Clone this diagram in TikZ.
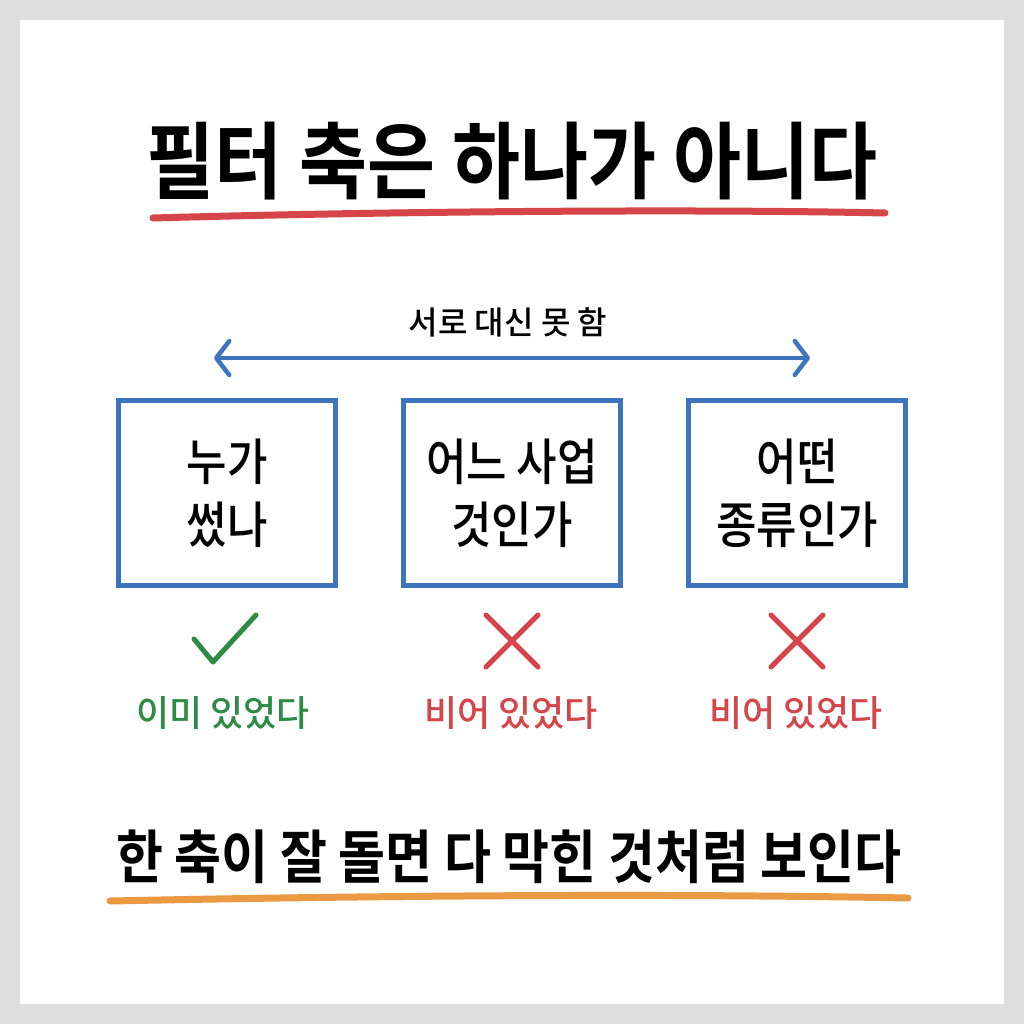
\documentclass[tikz,border=0pt]{standalone}
\usepackage{fontspec}
\usetikzlibrary{arrows.meta}
\newfontfamily\cjk[FakeStretch=0.88]{Noto Sans CJK KR Medium}
\newfontfamily\cjkwide{Noto Sans CJK KR Medium}
\newfontfamily\cjkbold[FakeStretch=0.88]{Noto Sans CJK KR Bold}
\definecolor{bggray}{HTML}{DEDEDE}
\definecolor{boxblue}{HTML}{3D74BD}
\definecolor{crossred}{HTML}{D64549}
\definecolor{okgreen}{HTML}{2E8B45}
\definecolor{lineorange}{HTML}{E99A42}
\tikzset{
  titletext/.style={inner sep=0pt, font=\cjkbold\fontsize{84}{100}\selectfont},
  bottomtext/.style={inner sep=0pt, font=\cjkbold\fontsize{58}{70}\selectfont},
  smalltext/.style={inner sep=0pt, font=\cjkwide\fontsize{32}{40}\selectfont},
  boxtext/.style={inner sep=0pt, align=center, font=\cjk\fontsize{50}{63}\selectfont},
  labeltext/.style={inner sep=0pt, font=\cjkwide\fontsize{36}{44}\selectfont},
  stepbox/.style={draw=boxblue, line width=5pt, minimum width=217pt, minimum height=185pt, inner sep=0pt},
  underline/.style={line width=7pt, line cap=round},
  markline/.style={line width=5pt, line cap=round, line join=round},
  twoway/.style={draw=boxblue, line width=4.5pt, line cap=round,
    {Straight Barb[length=13pt,width=34pt,line width=4.5pt,round]}-{Straight Barb[length=13pt,width=34pt,line width=4.5pt,round]}}
}
\begin{document}
\begin{tikzpicture}[x=1pt,y=-1pt]
\fill[bggray] (0,0) rectangle (1024,1024);
\fill[white] (20,20) rectangle (1004,1004);
\useasboundingbox (0,0) rectangle (1024,1024);

% title
\node[titletext] (title) at (512,161) {필터 축은 하나가 아니다};
\coordinate (tuL) at (153,218);
\coordinate (tuR) at (885,213);
\draw[underline, crossred] (tuL) .. controls (400,211) and (700,209) .. (tuR);

% arrow
\node[smalltext] (mutual) at (508,322) {서로 대신 못 함};
\coordinate (aL) at (214,358);
\coordinate (aR) at (810,358);
\draw[twoway] (aL) -- (aR);

% boxes
\node[stepbox] (b1) at (227,493) {};
\node[stepbox] (b2) at (512,493) {};
\node[stepbox] (b3) at (797,493) {};
\node[boxtext] (t1) at (b1.center) {누가\\썼나};
\node[boxtext] (t2) at (b2.center) {어느 사업\\것인가};
\node[boxtext] (t3) at (b3.center) {어떤\\종류인가};

% marks
\coordinate (c1) at (194,639);
\coordinate (c2) at (213,662);
\coordinate (c3) at (256,615);
\draw[markline, okgreen] (c1) -- (c2) -- (c3);
\coordinate (x1a) at (486,615);
\coordinate (x1b) at (538,667);
\coordinate (x1c) at (538,615);
\coordinate (x1d) at (486,667);
\draw[markline, crossred] (x1a) -- (x1b) (x1c) -- (x1d);
\coordinate (x2a) at (771,615);
\coordinate (x2b) at (823,667);
\coordinate (x2c) at (823,615);
\coordinate (x2d) at (771,667);
\draw[markline, crossred] (x2a) -- (x2b) (x2c) -- (x2d);

% labels
\node[labeltext, text=okgreen] (l1) at (223,713) {이미 있었다};
\node[labeltext, text=crossred] (l2) at (511,713) {비어 있었다};
\node[labeltext, text=crossred] (l3) at (796,713) {비어 있었다};

% bottom
\node[bottomtext] (bottom) at (509,857) {한 축이 잘 돌면 다 막힌 것처럼 보인다};
\coordinate (buL) at (110,901);
\coordinate (buR) at (908,898);
\draw[underline, lineorange] (buL) .. controls (350,896) and (650,893) .. (buR);
\end{tikzpicture}
\end{document}
